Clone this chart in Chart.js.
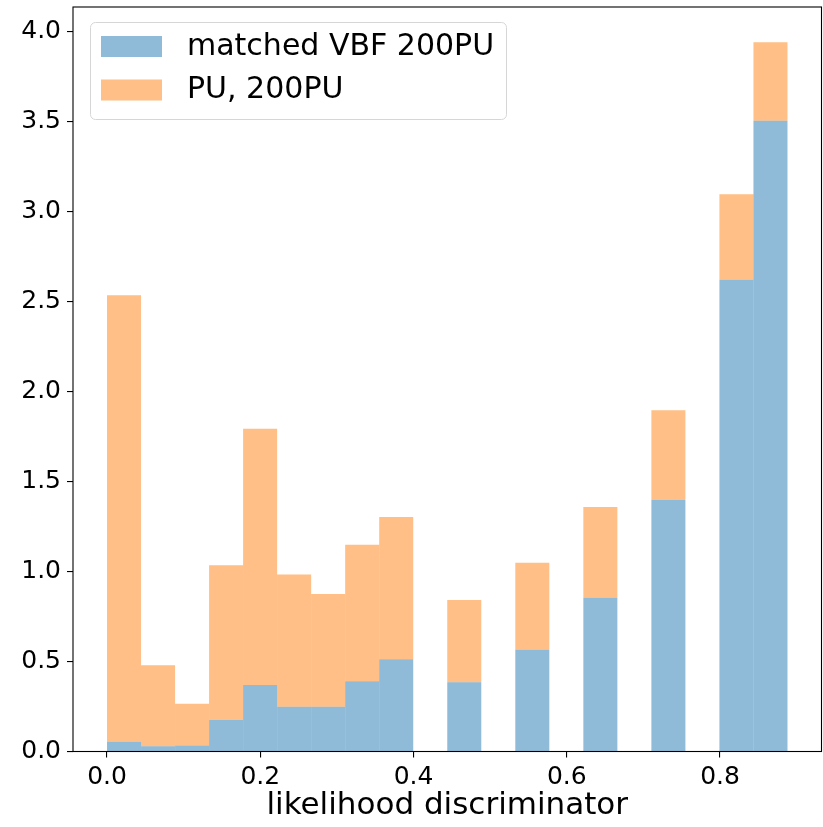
<!DOCTYPE html>
<html>
<head>
<meta charset="utf-8">
<script src="https://cdn.jsdelivr.net/npm/chart.js@4/dist/chart.umd.min.js"></script>
<style>
  html, body { margin: 0; padding: 0; background: #fff; }
  canvas { display: block; }
</style>
</head>
<body>
<canvas id="discChart" width="823" height="827"></canvas>
<script>
// lower edges of the 20 histogram bins (width 0.0444)
const binEdges = [0.0000, 0.0444, 0.0888, 0.1332, 0.1776, 0.2220, 0.2664, 0.3108, 0.3552, 0.3996,
                  0.4440, 0.4884, 0.5328, 0.5772, 0.6216, 0.6660, 0.7104, 0.7548, 0.7992, 0.8436];
const binWidth = 0.0444;

// normalised counts, stacked: VBF at the bottom, PU on top
const vbfCounts = [0.054, 0.029, 0.034, 0.175, 0.370, 0.249, 0.249, 0.390, 0.512, 0,
                   0.385, 0, 0.566, 0, 0.855, 0, 1.398, 0, 2.622, 3.505];
const puCounts  = [2.481, 0.450, 0.232, 0.860, 1.424, 0.734, 0.626, 0.759, 0.791, 0,
                   0.457, 0, 0.483, 0, 0.504, 0, 0.498, 0, 0.474, 0.436];

const xTicks = [0.0, 0.2, 0.4, 0.6, 0.8];
const yTicks = [0.0, 0.5, 1.0, 1.5, 2.0, 2.5, 3.0, 3.5, 4.0];

const FONT = "'DejaVu Sans', 'Liberation Sans', sans-serif";

const toPoints = counts => counts.map((c, i) => ({ x: binEdges[i] + binWidth / 2, y: c }));

// box around the axes plus the legend panel in the upper left
const framePlugin = {
    id: 'frame',
    afterDraw(chart) {
        const { ctx, chartArea: a } = chart;
        ctx.save();
        ctx.strokeStyle = '#000';
        ctx.lineWidth = 1.1;
        ctx.strokeRect(a.left, a.top, a.right - a.left, a.bottom - a.top);

        // legend
        const bx = 90.5, by = 22.5, bw = 416, bh = 97, r = 5;
        ctx.beginPath();
        ctx.moveTo(bx + r, by);
        ctx.arcTo(bx + bw, by, bx + bw, by + bh, r);
        ctx.arcTo(bx + bw, by + bh, bx, by + bh, r);
        ctx.arcTo(bx, by + bh, bx, by, r);
        ctx.arcTo(bx, by, bx + bw, by, r);
        ctx.closePath();
        ctx.fillStyle = 'rgba(255,255,255,0.8)';
        ctx.fill();
        ctx.strokeStyle = '#d6d6d6';
        ctx.lineWidth = 1;
        ctx.stroke();

        ctx.font = '30px ' + FONT;
        ctx.textBaseline = 'middle';
        chart.data.datasets.forEach((ds, i) => {
            const y = 36 + i * 43.5;
            ctx.fillStyle = ds.backgroundColor;
            ctx.fillRect(101, y, 61, 21);
            ctx.fillStyle = '#000';
            ctx.fillText(ds.label, 187, y + 11);
        });
        ctx.restore();
    }
};

new Chart(document.getElementById('discChart'), {
    type: 'bar',
    data: {
        datasets: [
            {
                label: 'matched VBF 200PU',
                data: toPoints(vbfCounts),
                backgroundColor: 'rgba(31,119,180,0.5)',
                borderWidth: 0,
                inflateAmount: 0
            },
            {
                label: 'PU, 200PU',
                data: toPoints(puCounts),
                backgroundColor: 'rgba(255,127,14,0.5)',
                borderWidth: 0,
                inflateAmount: 0
            }
        ]
    },
    options: {
        responsive: false,
        animation: false,
        barPercentage: 1.0,
        categoryPercentage: 1.0,
        layout: { padding: { top: 7, right: 1.5, left: 0, bottom: 0 } },
        plugins: {
            legend: { display: false },
            tooltip: { enabled: false }
        },
        scales: {
            x: {
                type: 'linear',
                stacked: true,
                offset: false,
                min: -0.0444,
                max: 0.9324,
                afterFit: s => { s.height = 75.5; s.paddingLeft = 0; s.paddingRight = 0; },
                afterBuildTicks: s => { s.ticks = xTicks.map(v => ({ value: v })); },
                border: { display: false },
                grid: { offset: false, drawOnChartArea: false, drawTicks: true, tickLength: 6, color: '#000', lineWidth: 1.1 },
                ticks: {
                    padding: 5,
                    color: '#000',
                    font: { family: FONT, size: 25 },
                    maxRotation: 0,
                    callback: v => v.toFixed(1)
                },
                title: {
                    display: true,
                    text: 'likelihood discriminator',
                    color: '#000',
                    font: { family: FONT, size: 31 },
                    padding: { top: 0, bottom: 2 }
                }
            },
            y: {
                type: 'linear',
                stacked: true,
                min: 0,
                max: 4.137,
                afterFit: s => { s.width = 73; s.paddingTop = 0; s.paddingBottom = 0; },
                afterBuildTicks: s => { s.ticks = yTicks.map(v => ({ value: v })); },
                border: { display: false },
                grid: { drawOnChartArea: false, drawTicks: true, tickLength: 6, color: '#000', lineWidth: 1.1 },
                ticks: {
                    padding: 6,
                    color: '#000',
                    font: { family: FONT, size: 25 },
                    callback: v => v.toFixed(1)
                }
            }
        }
    },
    plugins: [framePlugin]
});
</script>
</body>
</html>
